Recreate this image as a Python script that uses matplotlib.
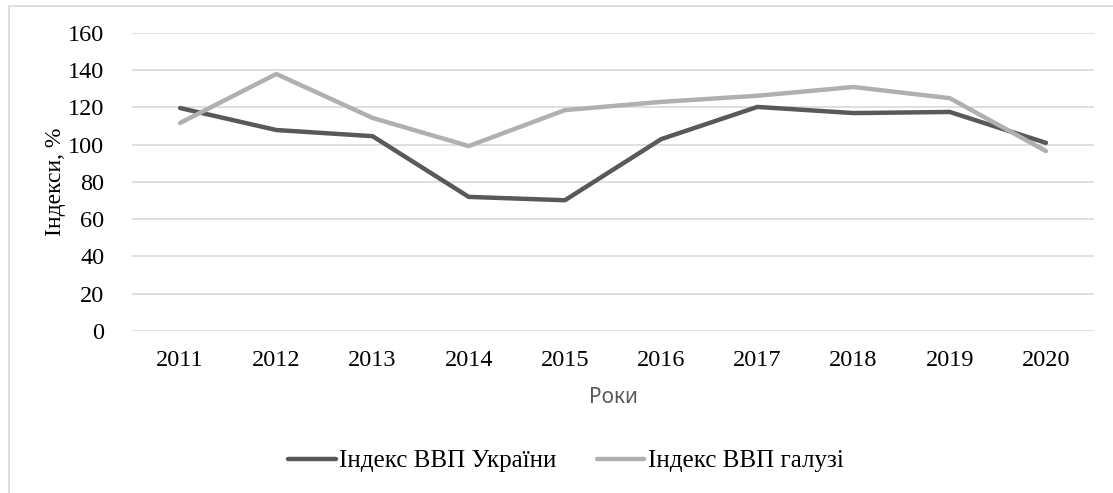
import matplotlib
matplotlib.use('Agg')
import matplotlib.pyplot as plt
from matplotlib.patches import Rectangle

plt.rcParams['font.family'] = ['Liberation Serif', 'DejaVu Serif']

years = ["2011", "2012", "2013", "2014", "2015", "2016", "2017", "2018", "2019", "2020"]
gdp_ukraine = [119.7, 107.9, 104.6, 72.0, 70.2, 103.0, 120.3, 117.0, 117.6, 101.0]
gdp_industry = [111.7, 138.0, 114.4, 99.3, 118.6, 123.0, 126.3, 131.0, 125.0, 96.6]
labels = ["Індекс ВВП України", "Індекс ВВП галузі"]

COLORS = {"ukraine": "#595959", "industry": "#B0B0B0"}

fig = plt.figure(figsize=(11.13, 4.93), dpi=100)
ax = fig.add_axes([0.1186, 0.3286, 0.8644, 0.6045])

x = range(len(years))
ax.plot(x, gdp_ukraine, color=COLORS["ukraine"], lw=3.2, label=labels[0],
        solid_joinstyle='round', solid_capstyle='round')
ax.plot(x, gdp_industry, color=COLORS["industry"], lw=3.2, label=labels[1],
        solid_joinstyle='round', solid_capstyle='round')

ax.set_xlim(-0.5, len(years) - 0.5)
ax.set_ylim(0, 160)
ax.set_yticks(range(0, 161, 20))
ax.set_xticks(list(x))
ax.set_xticklabels(years)
ax.tick_params(axis='both', length=0, labelsize=17.5)
ax.tick_params(axis='y', pad=20)
ax.tick_params(axis='x', pad=14)
ax.grid(axis='y', color='#D9D9D9', lw=1.2)
ax.set_axisbelow(True)
for s in ax.spines.values():
    s.set_visible(False)

ax.set_ylabel("Індекси, %", fontsize=17, labelpad=1)
ax.set_xlabel("Роки", fontsize=15, color='#595959', family='Noto Sans', labelpad=11)

fig.legend(loc='center', bbox_to_anchor=(566 / 1113, 1 - 461 / 493), ncol=2,
           frameon=False, fontsize=18, handlelength=1.9, handletextpad=0.15,
           columnspacing=1.6)

# light outer border of the chart area
fig.patches.append(Rectangle((9 / 1113, -0.1), 1.1, 1 - 6 / 493 + 0.1,
                             transform=fig.transFigure, fill=False,
                             edgecolor='#D9D9D9', lw=1.2))

fig.savefig("out.png", dpi=100)
